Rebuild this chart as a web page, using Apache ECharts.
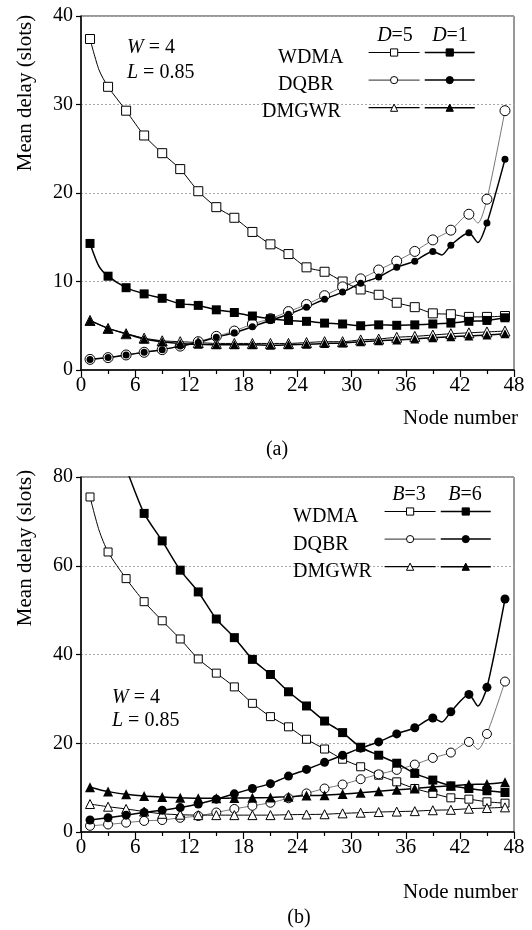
<!DOCTYPE html>
<html>
<head>
<meta charset="utf-8">
<script src="https://cdn.jsdelivr.net/npm/echarts@6/dist/echarts.min.js"></script>
<style>
  html, body { margin: 0; padding: 0; background: #fff; }
  #chart { width: 532px; height: 930px; }
</style>
</head>
<body>
<div id="chart"></div>
<script>
// Mean delay per node (markers at odd node numbers)
const nodes = [1, 3, 5, 7, 9, 11, 13, 15, 17, 19, 21, 23, 25, 27, 29, 31, 33, 35, 37, 39, 41, 43, 45, 47]
const xTicks = [0, 6, 12, 18, 24, 30, 36, 42, 48]
const yTicksA = [0, 10, 20, 30, 40]
const yTicksB = [0, 20, 40, 60, 80]

// (a) D=5 / D=1
const wdmaD5 = [37.4, 32.0, 29.3, 26.5, 24.5, 22.7, 20.2, 18.4, 17.2, 15.6, 14.2, 13.1, 11.6, 11.1, 10.0, 9.1, 8.5, 7.6, 7.1, 6.4, 6.3, 6.0, 6.0, 6.1]
const wdmaD1 = [14.3, 10.6, 9.3, 8.6, 8.1, 7.5, 7.3, 6.8, 6.5, 6.1, 5.8, 5.6, 5.5, 5.3, 5.2, 5.0, 5.1, 5.05, 5.1, 5.2, 5.3, 5.5, 5.6, 5.9]
const dqbrD5 = [1.2, 1.4, 1.7, 2.0, 2.3, 2.7, 3.2, 3.8, 4.4, 5.2, 5.8, 6.6, 7.4, 8.4, 9.4, 10.3, 11.3, 12.3, 13.4, 14.7, 15.8, 17.6, 19.3, 29.3]
const dqbrD1 = [1.2, 1.4, 1.7, 2.0, 2.3, 2.7, 3.1, 3.7, 4.2, 4.9, 5.6, 6.3, 7.1, 8.0, 8.8, 9.8, 10.5, 11.6, 12.3, 13.4, 14.1, 15.5, 16.6, 23.8]
const dmgwrD5 = [5.6, 4.7, 4.1, 3.6, 3.3, 3.2, 3.1, 3.0, 3.0, 3.0, 3.0, 3.0, 3.1, 3.2, 3.2, 3.4, 3.5, 3.7, 3.8, 3.95, 4.1, 4.2, 4.3, 4.4]
const dmgwrD1 = [5.6, 4.7, 4.1, 3.5, 3.2, 3.0, 2.9, 2.85, 2.85, 2.85, 2.8, 2.85, 2.9, 3.0, 3.05, 3.2, 3.3, 3.4, 3.5, 3.65, 3.75, 3.85, 3.95, 4.1]

// (b) B=3 / B=6  (first WDMA B=6 values run off the top of the plot)
const wdmaB3 = [75.5, 63.1, 57.1, 51.9, 47.6, 43.5, 39.0, 35.8, 32.7, 29.0, 26.0, 23.7, 20.9, 18.7, 16.4, 14.7, 12.8, 11.3, 9.8, 8.7, 7.7, 7.4, 6.8, 6.5]
const wdmaB6 = [108, 93, 82, 71.8, 65.6, 59.0, 54.1, 48.0, 43.8, 38.9, 35.5, 31.6, 28.4, 25.0, 22.4, 19.1, 17.3, 15.5, 13.2, 11.7, 10.4, 9.8, 9.3, 8.9]
const dqbrB3 = [1.4, 1.7, 2.1, 2.5, 2.7, 3.2, 3.6, 4.4, 5.2, 5.9, 6.6, 7.6, 8.7, 9.8, 10.7, 11.9, 13.0, 14.0, 15.2, 16.7, 17.9, 20.3, 22.1, 33.9]
const dqbrB6 = [2.7, 3.2, 3.8, 4.4, 4.9, 5.5, 6.3, 7.4, 8.6, 9.8, 10.9, 12.6, 14.1, 15.7, 17.3, 18.9, 20.3, 22.1, 23.5, 25.7, 27.1, 31.0, 32.6, 52.5]
const dmgwrB3 = [6.3, 5.7, 5.2, 4.6, 4.1, 3.9, 3.8, 3.8, 3.8, 3.8, 3.8, 3.9, 3.95, 4.0, 4.2, 4.35, 4.5, 4.6, 4.7, 4.9, 5.0, 5.25, 5.4, 5.55]
const dmgwrB6 = [10.1, 9.1, 8.5, 8.1, 7.9, 7.7, 7.6, 7.6, 7.65, 7.7, 7.8, 7.95, 8.2, 8.3, 8.55, 8.85, 9.2, 9.5, 9.8, 10.2, 10.4, 10.7, 10.8, 11.2]

// unmarked even-node points where the curves visibly kink
const wdmaD5Extra = [[2, 33.9]]
const wdmaD1Extra = [[2, 11.7]]
const dqbrD5Extra = [[44, 16.6]]
const dqbrD1Extra = [[40, 13.0], [44, 14.4]]
const wdmaB3Extra = [[2, 68.0]]
const dqbrB3Extra = [[44, 18.6]]
const dqbrB6Extra = [[40, 24.8], [44, 28.4]]

const FONT = "Liberation Serif"

function pts(values, extra) {
    const marked = nodes.map((n, i) => ({ value: [n, values[i]] }))
    const hidden = (extra || []).map(p => ({ value: p, symbol: "none" }))
    return marked.concat(hidden).sort((a, b) => a.value[0] - b.value[0])
}

function line(name, idx, values, extra, symbol, size, filled, width, lineColor) {
    return {
        name: name,
        type: "line",
        xAxisIndex: idx,
        yAxisIndex: idx,
        data: pts(values, extra),
        smooth: 0.25,
        symbol: symbol,
        symbolSize: size,
        showAllSymbol: true,
        clip: true,
        lineStyle: { color: lineColor || "#000", width: width },
        itemStyle: filled
            ? { color: "#000", borderColor: "#000", borderWidth: 0 }
            : { color: "#fff", borderColor: "#000", borderWidth: 1 },
        emphasis: { disabled: true },
    }
}

function xAxis(idx) {
    return {
        type: "value", gridIndex: idx, min: 0, max: 48, interval: 6,
        axisLine: { lineStyle: { color: "#000", width: 1.5 } },
        axisTick: { length: 7, lineStyle: { color: "#000", width: 1.2 } },
        minorTick: { show: true, splitNumber: 2, length: 4, lineStyle: { color: "#000", width: 1.2 } },
        axisLabel: {
            color: "#000", fontFamily: FONT, fontSize: 21, margin: 5,
            formatter: v => xTicks.includes(v) ? String(v) : "",
        },
        splitLine: { show: false },
    }
}

function yAxis(idx, max, interval, ticks) {
    return {
        type: "value", gridIndex: idx, min: 0, max: max, interval: interval,
        axisLine: { show: true, lineStyle: { color: "#000", width: 1.5 } },
        axisTick: { show: true, length: 5, lineStyle: { color: "#000", width: 1.2 } },
        axisLabel: {
            color: "#000", fontFamily: FONT, fontSize: 20, margin: 8,
            formatter: v => ticks.includes(v) ? String(v) : "",
        },
        splitLine: { show: true, lineStyle: { color: "#aaa", type: [2, 2], width: 1 } },
    }
}

function txt(x, y, text, opts) {
    return {
        type: "text", x: x, y: y, z: 100,
        rotation: (opts && opts.rotation) || 0,
        style: {
            text: text, fill: "#000", font: ((opts && opts.size) || 20) + "px " + FONT,
            align: (opts && opts.align) || "left", verticalAlign: "middle",
            rich: { i: { fontStyle: "italic", fontFamily: FONT, fontSize: (opts && opts.size) || 20 } },
        },
    }
}

// one legend column per parameter value; row names are drawn as text
function legend(left, top, width, names, lineWidth) {
    return {
        left: left, top: top, orient: "vertical", padding: 0,
        itemWidth: width, itemHeight: 9, itemGap: 19,
        selectedMode: false,
        data: names.map(n => ({
            name: n,
            lineStyle: { color: n.startsWith("DQBR") && lineWidth < 1.5 ? "#555" : "#000", width: lineWidth, opacity: 1 },
        })),
        formatter: () => "",
        textStyle: { fontSize: 6 },
        itemStyle: { borderWidth: 1 },
    }
}

const chart = echarts.init(document.getElementById("chart"), null, { renderer: "canvas" })

const option = {
    animation: false,
    backgroundColor: "#fff",
    grid: [
        { left: 81, right: 18, top: 16, height: 354, show: true, borderColor: "#333", borderWidth: 1 },
        { left: 81, right: 18, top: 477, height: 355, show: true, borderColor: "#333", borderWidth: 1 },
    ],
    xAxis: [xAxis(0), xAxis(1)],
    yAxis: [yAxis(0, 40, 10, yTicksA), yAxis(1, 80, 20, yTicksB)],
    legend: [
        legend(368, 48, 51, ["WDMA D=5", "DQBR D=5", "DMGWR D=5"], 1.2),
        legend(424, 48, 50, ["WDMA D=1", "DQBR D=1", "DMGWR D=1"], 1.5),
        legend(384, 507, 51, ["WDMA B=3", "DQBR B=3", "DMGWR B=3"], 1.2),
        legend(440, 507, 50, ["WDMA B=6", "DQBR B=6", "DMGWR B=6"], 1.5),
    ],
    series: [
        // (a): open markers first, filled ones drawn on top
        line("WDMA D=5", 0, wdmaD5, wdmaD5Extra, "rect", 9, false, 1),
        line("DQBR D=5", 0, dqbrD5, dqbrD5Extra, "circle", 10, false, 0.8, "#555"),
        line("DMGWR D=5", 0, dmgwrD5, null, "triangle", 10, false, 1),
        line("WDMA D=1", 0, wdmaD1, wdmaD1Extra, "rect", 9, true, 1.5),
        line("DQBR D=1", 0, dqbrD1, dqbrD1Extra, "circle", 7, true, 1.5),
        line("DMGWR D=1", 0, dmgwrD1, null, "triangle", 9, true, 1.5),
        // (b)
        line("WDMA B=3", 1, wdmaB3, wdmaB3Extra, "rect", 8, false, 1),
        line("DQBR B=3", 1, dqbrB3, dqbrB3Extra, "circle", 9, false, 0.8, "#555"),
        line("DMGWR B=3", 1, dmgwrB3, null, "triangle", 9, false, 1),
        line("WDMA B=6", 1, wdmaB6, null, "rect", 9, true, 1.5),
        line("DQBR B=6", 1, dqbrB6, dqbrB6Extra, "circle", 9, true, 1.5),
        line("DMGWR B=6", 1, dmgwrB6, null, "triangle", 10, true, 1.5),
    ],
    graphic: [
        // axis names
        txt(25, 93, "Mean delay (slots)", { rotation: Math.PI / 2, align: "center", size: 21 }),
        txt(25, 548, "Mean delay (slots)", { rotation: Math.PI / 2, align: "center", size: 21 }),
        txt(518, 418, "Node number", { align: "right", size: 21 }),
        txt(518, 892, "Node number", { align: "right", size: 21 }),
        txt(277, 450, "(a)", { align: "center", size: 20 }),
        txt(299, 918, "(b)", { align: "center", size: 20 }),
        // parameter notes
        txt(127, 48, "{i|W} = 4"),
        txt(127, 73, "{i|L} = 0.85"),
        txt(112, 698, "{i|W} = 4"),
        txt(112, 721, "{i|L} = 0.85"),
        // legend headers and row labels
        txt(395, 36, "{i|D}=5", { align: "center" }),
        txt(450, 36, "{i|D}=1", { align: "center" }),
        txt(278, 58, "WDMA"),
        txt(278, 85, "DQBR"),
        txt(262, 112, "DMGWR"),
        txt(409, 495, "{i|B}=3", { align: "center" }),
        txt(465, 495, "{i|B}=6", { align: "center" }),
        txt(293, 517, "WDMA"),
        txt(293, 545, "DQBR"),
        txt(293, 572, "DMGWR"),
    ],
}

chart.setOption(option)

window.addEventListener("resize", () => {
    chart.resize()
})
</script>
</body>
</html>
